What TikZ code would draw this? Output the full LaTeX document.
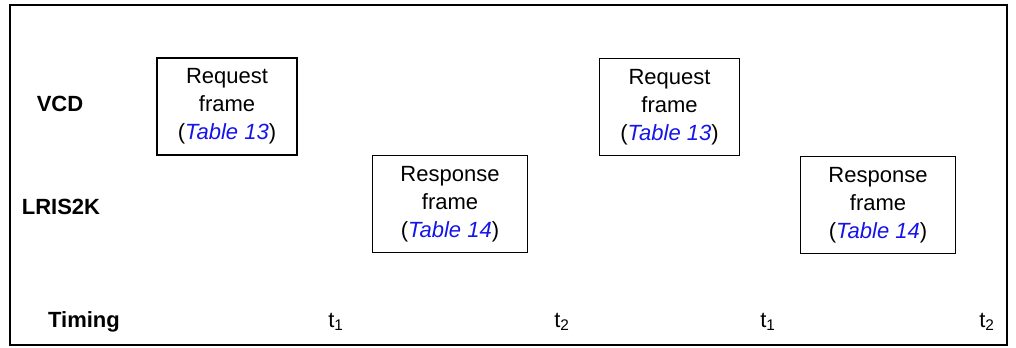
\documentclass[tikz,border=0pt]{standalone}
\usepackage{fontspec}
\setmainfont{Liberation Sans}
\usepackage{xcolor}
\usepackage{tikz}
\usetikzlibrary{positioning}

\definecolor{tablink}{RGB}{20,20,235}
\newcommand{\tabref}[1]{(\textcolor{tablink}{\textit{Table #1}})}

\begin{document}
\begin{tikzpicture}[x=0.75pt, y=-0.75pt,
  font=\fontsize{16.5}{21}\selectfont,
  frame/.style={rectangle, draw, line width=1.3pt, align=center, inner sep=0pt,
    minimum width=140*0.75pt, minimum height=97*0.75pt},
  wideframe/.style={frame, minimum width=155*0.75pt},
  rowlabel/.style={font=\fontsize{16.5}{21}\selectfont\bfseries},
  tick/.style={anchor=base}
]
\useasboundingbox (0,0) rectangle (1016,347);
% outer border
\draw[line width=1.3pt] (10,5) rectangle (1007,345);

% row labels
\node[rowlabel] (vcd) at (60,104) {VCD};
\node[rowlabel] (tag) at (61,207) {LRIS2K};
\node[rowlabel, anchor=base] (timing) at (84,327) {Timing};

% request / response frames
\node[frame] (req1) at (227,106.5) {Request\\frame\\\tabref{13}};
\node[wideframe] (resp1) at (450,204) {Response\\frame\\\tabref{14}};
\node[frame] (req2) at (669.5,107) {Request\\frame\\\tabref{13}};
\node[wideframe] (resp2) at (878,205) {Response\\frame\\\tabref{14}};

% timing marks
\node[tick] (ta) at (336,327) {t\textsubscript{1}};
\node[tick] (tb) at (562,327) {t\textsubscript{2}};
\node[tick] (tc) at (768,327) {t\textsubscript{1}};
\node[tick] (td) at (987,327) {t\textsubscript{2}};
\end{tikzpicture}
\end{document}
